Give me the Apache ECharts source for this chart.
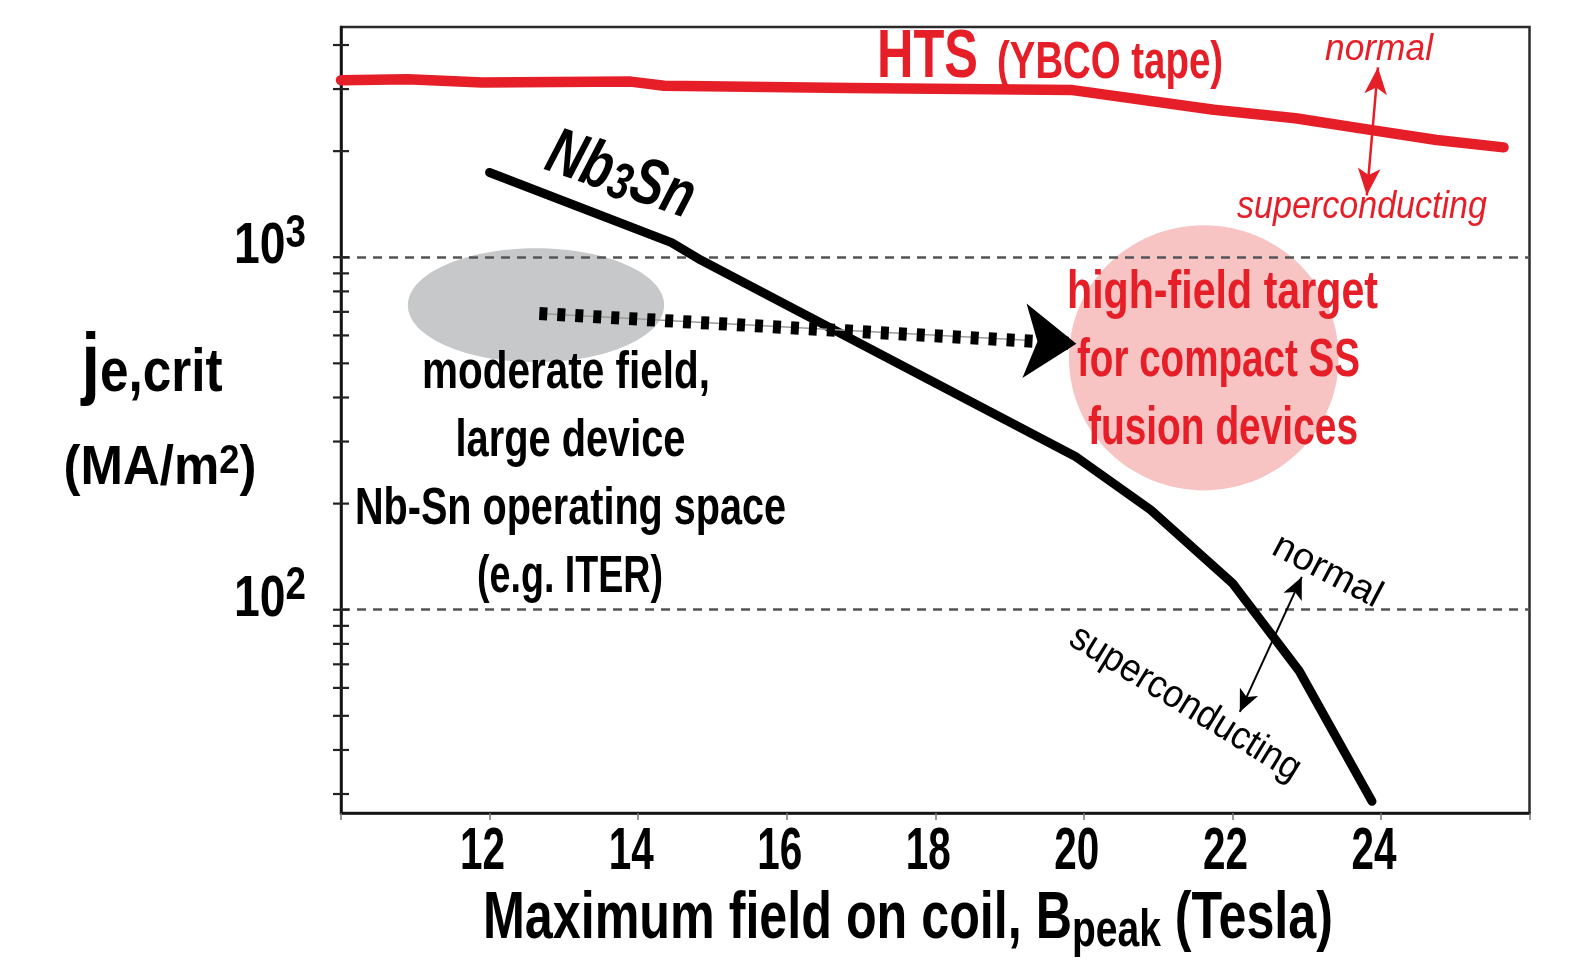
<!DOCTYPE html>
<html><head><meta charset="utf-8">
<script src="https://cdn.jsdelivr.net/npm/echarts@6/dist/echarts.min.js"></script>
<style>html,body{margin:0;padding:0;background:#fff}#c{width:1569px;height:960px}</style>
</head><body><div id="c"></div><script>
// ---------- data ----------
const htsB   = [10, 10.9, 11.9, 13.9, 14.35, 16.85, 19.85, 21.75, 22.85, 23.9, 24.75, 25.65];
const htsJ   = [3180, 3200, 3130, 3150, 3065, 3020, 2980, 2620, 2480, 2290, 2150, 2050];
const nbB    = [12.0, 14.45, 14.85, 19.9, 20.9, 22.0, 22.9, 23.88];
const nbJ    = [1740, 1100, 980, 271, 192, 119, 67, 28.6];
const xTickLabels = [12, 14, 16, 18, 20, 22, 24];
const yDecades = [100, 1000];
const yMinorTicks = [30, 40, 50, 60, 70, 80, 90, 100, 200, 300, 400, 500, 600, 700, 800, 900, 1000, 2000, 3000, 4000];
const yMin = 26.5, yMax = 4500;
// annotation regions in data units: [B from, B to, j top, j bottom]
const regionModerate = [10.9, 14.35, 1060, 504];
const regionTarget   = [19.8, 23.43, 1232, 218];
// arrows in data units [B, j] (end = arrow tip)
const pathFrom = [12.67, 692];
const pathTo   = [19.9, 568.5];
const htsArrow = [[23.96, 3459], [23.81, 1499]];
const nbArrow  = [[22.935, 123.9], [22.10, 51.3]];

// ---------- styles ----------
const RED = '#e61e27';
const FAM = "'Liberation Sans Narrow', 'Liberation Sans', Arial, sans-serif";
const mctx = document.createElement('canvas').getContext('2d');
function measure(t, fs, b, i) {
  mctx.font = (i ? 'italic ' : '') + (b ? 'bold ' : '') + fs + 'px ' + FAM;
  return mctx.measureText(t).width;
}
function label(segs, cx, by, w, rotDeg, color) {
  let W = 0;
  const ws = segs.map(s => { const m = measure(s.t, s.fs, s.b, s.i); W += m; return m; });
  const sx = w ? w / W : 1;
  let off = -W / 2;
  const children = segs.map((s, k) => {
    const el = { type: 'text', z: 20, x: off, y: (s.dy || 0) - 0.3465 * s.fs,
      style: { text: s.t, fontSize: s.fs, fontFamily: FAM, fontWeight: s.b ? 'bold' : 'normal',
        fontStyle: s.i ? 'italic' : 'normal', fill: s.c || color, align: 'left', verticalAlign: 'middle' } };
    off += ws[k];
    return el;
  });
  return { type: 'group', z: 20, x: cx, y: by, scaleX: sx, rotation: -(rotDeg || 0) * Math.PI / 180, silent: true, children };
}

const chart = echarts.init(document.getElementById('c'), null, { renderer: 'canvas' });

const annotations = [
  label([{ t: 'HTS', fs: 68, b: 1 }], 927.5, 81.7, 101, 0, RED),
  label([{ t: '(YBCO tape)', fs: 51, b: 1 }], 1110, 81.7, 226, 0, RED),
  label([{ t: 'normal', fs: 37, i: 1 }], 1379, 63, 108, 0, RED),
  label([{ t: 'superconducting', fs: 38, i: 1 }], 1362, 221, 250, 0, RED),
  label([{ t: 'high-field target', fs: 53, b: 1 }], 1222.5, 312, 311, 0, RED),
  label([{ t: 'for compact SS', fs: 53, b: 1 }], 1218.5, 380, 283, 0, RED),
  label([{ t: 'fusion devices', fs: 53, b: 1 }], 1223, 448, 270, 0, RED),
  label([{ t: 'Nb', fs: 66, b: 1, i: 1 }, { t: '3', fs: 52, b: 1, i: 1, dy: 3 }, { t: 'Sn', fs: 66, b: 1, i: 1 }], 613, 198, 152, 19, '#000'),
  label([{ t: 'moderate field,', fs: 51, b: 1 }], 566, 392, 288, 0, '#000'),
  label([{ t: 'large device', fs: 51, b: 1 }], 570.5, 460, 230, 0, '#000'),
  label([{ t: 'Nb-Sn operating space', fs: 51, b: 1 }], 570.5, 528, 431, 0, '#000'),
  label([{ t: '(e.g. ITER)', fs: 51, b: 1 }], 570, 596, 186, 0, '#000'),
  label([{ t: 'normal', fs: 38 }], 1321, 583, 118, 27.7, '#000'),
  label([{ t: 'superconducting', fs: 39 }], 1178, 715, 264, 31.5, '#000'),
  label([{ t: 'j', fs: 80, b: 1 }, { t: 'e,crit', fs: 62, b: 1 }], 152, 395, 141, 0, '#000'),
  label([{ t: '(MA/m', fs: 56, b: 1 }, { t: '2', fs: 40, b: 1, dy: -12 }, { t: ')', fs: 56, b: 1 }], 160, 488, 193, 0, '#000'),
  label([{ t: 'Maximum field on coil, B', fs: 67, b: 1 }, { t: 'peak', fs: 52, b: 1, dy: 7 }, { t: ' (Tesla)', fs: 67, b: 1 }], 908, 943, 850, 0, '#000')
];

const option = {
  animation: false,
  backgroundColor: '#fff',
  grid: { left: 341, right: 39.5, top: 27, bottom: 147, show: true, borderColor: '#2b2b2b', borderWidth: 2.5 },
  xAxis: {
    type: 'value', min: 10, max: 26, interval: 2,
    axisLine: { lineStyle: { color: '#111', width: 2.5 } },
    axisTick: { show: true, length: 7, lineStyle: { color: '#777', width: 1.5 } },
    splitLine: { show: false },
    axisLabel: { show: false }
  },
  yAxis: {
    type: 'log', logBase: 10, min: yMin, max: yMax,
    axisLine: { show: true, lineStyle: { color: '#111', width: 2.5 } },
    axisTick: { show: false },
    splitLine: { show: false },
    axisLabel: { show: false }
  },
  graphic: { elements: annotations },
  series: [
    {
      type: 'custom', name: 'regions', coordinateSystem: 'cartesian2d', z: 1, silent: true,
      data: [regionModerate, regionTarget],
      encode: { x: [0, 1], y: [2, 3] },
      renderItem: function (params, api) {
        const fills = ['#c7c8ca', '#f7c3c3'];
        const a = api.coord([api.value(0), api.value(2)]);
        const b = api.coord([api.value(1), api.value(3)]);
        return {
          type: 'ellipse',
          shape: { cx: (a[0] + b[0]) / 2, cy: (a[1] + b[1]) / 2, rx: Math.abs(b[0] - a[0]) / 2, ry: Math.abs(b[1] - a[1]) / 2 },
          style: { fill: fills[params.dataIndex] }
        };
      }
    },
    {
      type: 'line', name: 'decades', data: [], silent: true, z: 2,
      markLine: {
        silent: true, z: 2, symbol: ['none', 'none'], label: { show: false }, emphasis: { disabled: true },
        lineStyle: { color: '#555', width: 2.5, type: [9, 7] },
        data: yDecades.map(v => ({ yAxis: v }))
      }
    },
    {
      type: 'line', name: 'HTS (YBCO tape)', z: 3, symbol: 'none', silent: true,
      data: htsB.map((b, i) => [b, htsJ[i]]),
      lineStyle: { color: RED, width: 10.5, cap: 'round', join: 'round' }
    },
    {
      type: 'line', name: 'Nb3Sn', z: 3, symbol: 'none', silent: true,
      data: nbB.map((b, i) => [b, nbJ[i]]),
      lineStyle: { color: '#000', width: 9, cap: 'round', join: 'round' }
    },
    {
      type: 'line', name: 'path thin', data: [], silent: true, z: 4,
      markLine: {
        silent: true, z: 4, symbol: ['none', 'none'], label: { show: false }, emphasis: { disabled: true },
        lineStyle: { color: '#9a9a9a', width: 1.5, type: 'solid' },
        data: [[{ coord: pathFrom }, { coord: [19.3, 580] }]]
      }
    },
    {
      type: 'line', name: 'path', data: [], silent: true, z: 5,
      markLine: {
        silent: true, z: 5, symbol: ['none', 'arrow'], label: { show: false }, emphasis: { disabled: true },
        lineStyle: { color: '#000', width: 13, type: [8, 10], cap: 'butt', opacity: 1 },
        data: [[{ coord: pathFrom }, { coord: pathTo, symbolSize: [56, 52] }]]
      }
    },
    {
      type: 'line', name: 'hts arrow', data: [], silent: true, z: 5,
      markLine: {
        silent: true, z: 5, symbol: ['arrow', 'arrow'], label: { show: false }, emphasis: { disabled: true },
        lineStyle: { color: RED, width: 2.5, type: 'solid', opacity: 1 },
        data: [[{ coord: htsArrow[0], symbolSize: [17, 27] }, { coord: htsArrow[1], symbolSize: [17, 27] }]]
      }
    },
    {
      type: 'line', name: 'nb arrow', data: [], silent: true, z: 5,
      markLine: {
        silent: true, z: 5, symbol: ['arrow', 'arrow'], label: { show: false }, emphasis: { disabled: true },
        lineStyle: { color: '#000', width: 2, type: 'solid', opacity: 1 },
        data: [[{ coord: nbArrow[0], symbolSize: [15, 22] }, { coord: nbArrow[1], symbolSize: [15, 22] }]]
      }
    },
    {
      type: 'custom', name: 'yticks', coordinateSystem: 'cartesian2d', z: 6, silent: true, clip: false,
      data: yMinorTicks.map(v => [10, v]),
      encode: { x: 0, y: 1 },
      renderItem: function (params, api) {
        const p = api.coord([api.value(0), api.value(1)]);
        return { type: 'line', shape: { x1: p[0] - 8, y1: p[1], x2: p[0] + 8, y2: p[1] }, style: { stroke: '#222', lineWidth: 2.2 } };
      }
    }
  ]
};
chart.setOption(option);

// tick labels placed through the axes' own scales
const axisY = chart.convertToPixel({ yAxisIndex: 0 }, yMin);
const axisX = chart.convertToPixel({ xAxisIndex: 0 }, 10);
const tickLabels = [];
xTickLabels.forEach(v => {
  const px = chart.convertToPixel({ xAxisIndex: 0 }, v);
  tickLabels.push(label([{ t: String(v), fs: 60, b: 1 }], px - 7, axisY + 60, 45, 0, '#000'));
});
yDecades.forEach(d => {
  const py = chart.convertToPixel({ yAxisIndex: 0 }, d);
  const e = String(Math.round(Math.log10(d)));
  tickLabels.push(label([{ t: '10', fs: 58, b: 1 }, { t: e, fs: 46, b: 1, dy: -17 }], axisX - 35 - 36, py + 10, 72, 0, '#000'));
});
chart.setOption({ graphic: { elements: annotations.concat(tickLabels) } });
</script></body></html>
